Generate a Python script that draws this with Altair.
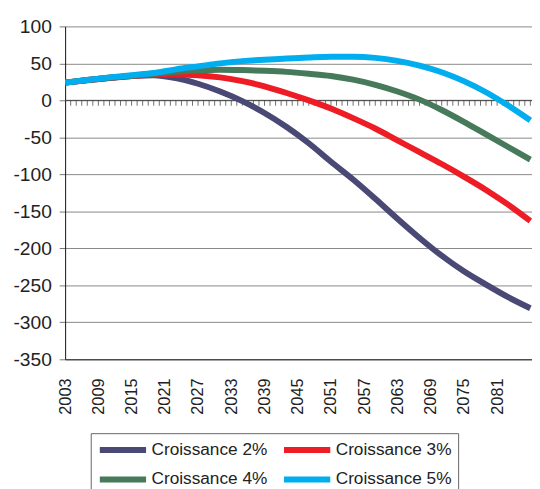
import altair as alt
import pandas as pd

years = [2003, 2007, 2011, 2015, 2019, 2023, 2027, 2031, 2035, 2039, 2043,
         2047, 2051, 2055, 2059, 2063, 2067, 2071, 2075, 2079, 2083, 2087]

s2 = [24, 27, 30, 33, 34, 30, 22.5, 12, -1, -17, -36,
      -58, -83, -107, -133, -160, -186, -210, -231, -249, -266, -281]
s3 = [24, 27.5, 30.5, 33, 34.5, 35, 34, 31, 26, 19, 10,
      0, -11, -24, -38, -54, -70, -86, -103, -121, -141, -163]
s4 = [24, 27.5, 30.5, 33, 36, 38.5, 40.5, 41.5, 41, 40, 38.5,
      36, 33, 28, 21, 12, 1, -13, -29, -46, -63, -80]
s5 = [24, 27.5, 31, 34, 37, 42, 46, 50, 53, 55, 56.5,
      58, 59, 59, 57.5, 53.5, 47, 38, 26, 11, -7, -27]

series_names = ["Croissance 2%", "Croissance 3%", "Croissance 4%", "Croissance 5%"]
series_colors = ["#4a4874", "#ee1c25", "#477a5a", "#00aeef"]

x_label_years = [2003, 2009, 2015, 2021, 2027, 2033, 2039, 2045, 2051,
                 2057, 2063, 2069, 2075, 2081]
tick_years = list(range(2004, 2088))
y_ticks = [100, 50, 0, -50, -100, -150, -200, -250, -300, -350]

rows = []
for name, vals in zip(series_names, [s2, s3, s4, s5]):
    for y, v in zip(years, vals):
        rows.append({"Année": y, "Valeur": v, "Série": name})
df = pd.DataFrame(rows)

FONT = "Liberation Sans"
xscale = alt.Scale(domain=[2003, 2087.3], nice=False, zero=False)
yscale = alt.Scale(domain=[-350, 100], nice=False)

x_axis = alt.Axis(values=x_label_years, labelAngle=-90, format="d",
                  ticks=False, grid=False, domain=True, domainColor="#222",
                  labelPadding=19, labelFontSize=16.5, labelFont=FONT,
                  labelColor="#222", labelFlush=False, labelOverlap=False)
y_axis = alt.Axis(values=y_ticks, grid=True, gridColor="#888",
                  domain=True, domainColor="#111", tickColor="#777",
                  tickSize=6, labelPadding=8, labelFontSize=19.5,
                  labelFont=FONT, labelColor="#222", labelFlush=False,
                  labelOverlap=False, labelExpr="'' + datum.value")

lines = alt.Chart(df).mark_line(strokeWidth=6, interpolate="monotone", clip=True).encode(
    x=alt.X("Année:Q", scale=xscale, title=None, axis=x_axis),
    y=alt.Y("Valeur:Q", scale=yscale, title=None, axis=y_axis),
    color=alt.Color("Série:N",
                    scale=alt.Scale(domain=series_names, range=series_colors),
                    legend=alt.Legend(orient="none", legendX=26, legendY=413,
                                      direction="horizontal",
                                      columns=2, title=None,
                                      symbolType="M-3,0H3",
                                      symbolSize=245, symbolStrokeWidth=6,
                                      symbolOffset=15.7,
                                      labelFontSize=17.5, labelFont=FONT,
                                      labelColor="#222", padding=6,
                                      strokeColor="#666", rowPadding=6,
                                      columnPadding=4, labelOffset=18)),
)

zero_df = pd.DataFrame({"v": [0]})
zero_rule = alt.Chart(zero_df).mark_rule(color="#444", strokeWidth=1).encode(
    y=alt.Y("v:Q", scale=yscale, title=None, axis=y_axis)
)

ticks_df = pd.DataFrame({"Année": tick_years, "v": [0] * len(tick_years)})
ticks = alt.Chart(ticks_df).mark_tick(
    orient="vertical", size=5, thickness=1, color="#333", yOffset=3, clip=True
).encode(
    x=alt.X("Année:Q", scale=xscale, title=None, axis=x_axis),
    y=alt.Y("v:Q", scale=yscale, title=None, axis=y_axis),
)

chart = alt.layer(zero_rule, ticks, lines).properties(
    width=474, height=338,
    autosize=alt.AutoSizeParams(type="none"),
    padding={"left": 58, "top": 15, "right": 0, "bottom": 128},
).configure_view(stroke=None)

chart.save("out.html", embed_options={"renderer": "svg", "actions": False})
